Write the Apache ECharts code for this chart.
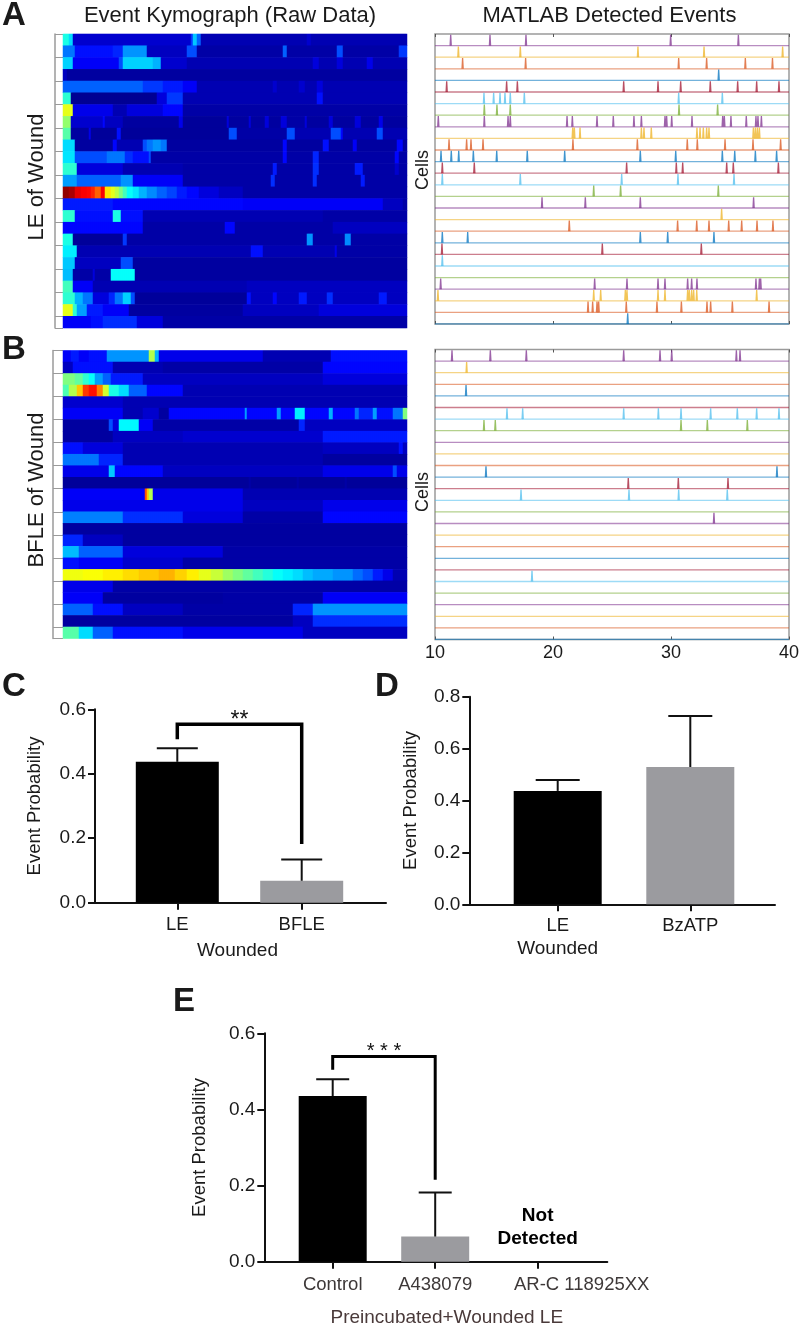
<!DOCTYPE html>
<html>
<head>
<meta charset="utf-8">
<style>html,body{margin:0;padding:0;background:#fff}#c{width:800px;height:1325px}</style>
<script src="https://cdn.jsdelivr.net/npm/echarts@6/dist/echarts.min.js"></script>
</head>
<body>
<div id="c"></div>
<script>
// Kymograph rows: runs of [start column, level 0-100] over 172 time columns
const kymoColumns = 172;
const kymoA = [
 [[0,40],[3,34],[5,9],[64,18],[65,32],[67,22],[69,7],[122,9],[124,7]],
 [[0,24],[6,14],[25,16],[30,27],[42,8],[62,20],[67,6],[110,22],[112,6],[137,20],[140,6],[168,18]],
 [[0,33],[5,12],[28,20],[30,33],[45,30],[49,9],[62,7],[125,10],[128,7],[137,10],[140,7],[152,11],[155,7]],
 [[0,8],[2,5]],
 [[0,22],[40,18],[50,15],[60,12],[67,7],[105,9],[107,7],[118,9],[121,7],[127,10],[130,7]],
 [[0,42],[4,3],[47,10],[52,18],[60,7],[127,14],[130,7]],
 [[0,60],[5,11],[25,7],[32,10],[50,13],[60,6]],
 [[0,52],[4,9],[20,13],[21,8],[30,5],[58,11],[60,4],[82,10],[83,5],[93,10],[94,5],[101,10],[103,5],[109,10],[112,6],[121,10],[122,5],[133,10],[135,5],[146,10],[149,5],[158,11],[160,5]],
 [[0,46],[4,5],[13,11],[14,4],[27,14],[29,4],[83,20],[87,6],[112,20],[116,7],[134,20],[139,13],[140,7],[157,20],[160,7]],
 [[0,34],[6,5],[25,13],[27,7],[40,20],[42,24],[45,27],[49,24],[52,5],[110,13],[112,5],[130,14],[133,5],[145,12],[147,5],[167,13],[170,5]],
 [[0,35],[6,20],[22,24],[31,17],[35,14],[43,20],[44,6],[110,13],[112,6],[125,16],[128,6],[166,13],[168,6]],
 [[0,42],[7,10],[30,7],[60,6],[105,15],[107,6],[125,17],[128,6],[146,15],[150,6],[166,9],[168,6]],
 [[0,28],[7,22],[29,27],[35,12],[60,6],[104,17],[106,6],[125,17],[127,6],[149,15],[151,6]],
 [[0,98],[3,96],[6,90],[9,88],[12,87],[14,84],[16,78],[19,88],[21,65],[24,60],[26,56],[28,50],[30,44],[32,38],[35,35],[38,30],[42,26],[47,22],[52,19],[57,15],[62,13],[68,10],[78,8],[90,6]],
 [[0,15],[25,13],[90,12],[160,8],[170,6]],
 [[0,42],[6,14],[25,40],[29,14],[40,7],[130,6]],
 [[0,13],[40,6],[81,13],[86,6],[135,8]],
 [[0,40],[5,4],[30,18],[32,6],[122,27],[125,6],[141,26],[144,6]],
 [[0,36],[7,7],[94,14],[100,7],[136,11],[137,6]],
 [[0,32],[6,8],[29,20],[35,5]],
 [[0,31],[5,6],[15,10],[16,6],[24,38],[36,5]],
 [[0,44],[5,12],[15,7],[92,8]],
 [[0,42],[6,30],[10,24],[15,10],[23,16],[26,24],[30,33],[34,20],[36,4],[92,14],[94,8],[105,13],[107,8],[118,15],[122,8],[132,17],[135,8],[158,15],[162,8]],
 [[0,60],[5,42],[7,28],[12,15],[20,12],[33,5],[90,8],[128,10]],
 [[0,12],[14,14],[20,17],[37,10],[50,6]]
];
const kymoB = [
 [[0,12],[4,15],[8,12],[13,14],[22,27],[43,55],[46,30],[48,11],[100,7],[134,14]],
 [[0,8],[5,14],[25,7],[50,6],[130,13]],
 [[0,50],[6,47],[10,42],[13,38],[16,28],[20,22],[24,15],[40,8],[130,10]],
 [[0,45],[3,55],[7,68],[10,82],[13,86],[17,75],[20,58],[23,40],[28,34],[33,22],[42,13],[60,7]],
 [[0,9],[30,7]],
 [[0,12],[30,7],[40,9],[48,5],[53,13],[91,28],[92,13],[107,28],[109,13],[116,36],[121,13],[133,30],[135,13],[146,24],[148,16],[155,28],[157,14],[165,24],[170,50]],
 [[0,5],[23,20],[25,10],[28,37],[38,12],[45,6],[118,16],[121,8]],
 [[0,5],[25,8],[60,9],[130,15]],
 [[0,14],[10,10],[30,7],[130,8],[168,14],[170,8]],
 [[0,24],[18,16],[30,7],[130,5]],
 [[0,11],[23,32],[26,13],[50,8],[130,11],[165,20],[167,11]],
 [[0,4],[93,6],[94,4],[117,6],[118,4],[141,6],[142,4]],
 [[0,12],[41,80],[42,68],[43,55],[45,11],[90,7]],
 [[0,11],[90,8],[130,11]],
 [[0,25],[30,17],[60,10],[90,6],[130,13]],
 [[0,5]],
 [[0,16],[10,8],[30,5]],
 [[0,31],[8,22],[30,10],[80,6]],
 [[0,14],[8,12],[30,9],[60,6]],
 [[0,61],[10,62],[20,64],[30,66],[38,68],[48,70],[56,67],[62,64],[68,60],[74,57],[80,53],[85,50],[90,47],[95,44],[100,41],[105,38],[110,36],[115,34],[120,31],[125,29],[135,27],[145,23],[150,20],[155,15],[160,11],[165,7]],
 [[0,11],[25,6]],
 [[0,12],[20,5],[80,6],[130,12]],
 [[0,22],[15,14],[30,8],[60,6],[115,16],[125,27]],
 [[0,5],[115,8],[125,17]],
 [[0,46],[8,34],[15,22],[25,14],[60,11],[120,8]]
];
// Detected events: time of each spike, by cell
const eventsA = [
 [11.33,14.66,17.71,29.97,35.71],
 [11.98,17.23,27.2,32.8,39.46],
 [12.34,17.68,30.65,33.02,36.3,38.6],
 [34.04],
 [10.99,16.07,16.98,25.99,28.9,30.82,33.33,35.65,37.26,39.15],
 [14.15,14.97,15.51,15.93,16.38,17.57,30.65,34.35],
 [14.18,15.25,16.38,30.68,33.95],
 [10.28,14.18,16.19,16.38,21.19,21.64,23.73,25.11,26.86,27.49,29.49,29.63,30.06,31.78,34.38,34.52,35.08,36.38,37.2,37.37,37.66],
 [21.67,21.81,22.29,27.49,27.71,28.33,32.2,32.46,32.74,33.02,33.22,36.98,37.15,37.32,37.49],
 [11.19,12.68,13.05,14.07,21.69,27.15,31.38,32.23,34.58,36.95,39.29],
 [10.51,11.38,12.01,13.25,15.23,17.82,20.99,27.4,30.4,34.35,35.4,37.15,38.95],
 [10.62,13.33,26.24,30.45,30.99,34.72,35.28,39.1],
 [10.62,17.23,25.82,30.59,35.34],
 [23.45,25.73,34.01],
 [19.07,22.74,27.4,37.0],
 [34.29],
 [21.38,30.56,32.18,33.22,34.89,35.99,37.29,38.64],
 [10.62,12.77,27.4,29.72,33.64],
 [10.59,24.18,32.57],
 [10.62],
 [],
 [10.48,23.53,26.27,28.9,29.49,31.41,31.75,32.2,37.2,37.49,37.6],
 [10.25,23.45,24.04,26.13,26.27,28.9,29.49,31.41,31.55,31.75,31.92,32.18,37.26],
 [22.97,23.36,23.73,23.87,26.21,28.81,30.88,33.05,33.36,35.2,38.31],
 [26.33]
];
const eventsB = [
 [11.44,14.69,17.74,25.99,29.07,30.06,35.54,35.85],
 [12.68],
 [],
 [12.63],
 [],
 [16.1,17.43,25.99,28.93,30.85,33.36,35.62,37.26,39.15],
 [14.15,15.11,30.85,33.08,36.47],
 [],[],[],
 [14.32,38.98],
 [26.38,30.62,34.83],
 [17.29,26.44,30.65,34.77],
 [],
 [33.64],
 [],[],[],[],
 [18.22],
 [],[],[],[],[]
];
const traceColors = ['#7E2F8E','#EDB120','#D95319','#0072BD','#A2142F','#4DBEEE','#77AC30'];

// Bar panels
const catsC = ['LE','BFLE'];
const meansC = [0.437,0.068];
const upperC = [0.479,0.134];
const catsD = ['LE','BzATP'];
const meansD = [0.437,0.529];
const upperD = [0.479,0.726];
const catsE = ['Control','A438079','AR-C 118925XX'];
const meansE = [0.435,0.066,0];
const upperE = [0.479,0.182,null];
const barColors = ['#000000','#9b9b9f','#9b9b9f'];

const FONT = '"Liberation Sans", Arial, sans-serif';
const INK = '#1a1a1a';
const grids=[], xAxes=[], yAxes=[], series=[], graphic=[];

function addGrid(l,t,r,b){ grids.push({left:l,top:t,width:r-l,height:b-t,containLabel:false,outerBoundsMode:'none'}); return grids.length-1; }

const columnIdx = Array.from({length:kymoColumns},(_,i)=>i);
function kymoPanel(rows,l,t,r,b,stripW){
  const g = addGrid(l,t,r,b);
  const xi = xAxes.length, yi = yAxes.length;
  xAxes.push({gridIndex:g,type:'category',data:columnIdx,show:false});
  yAxes.push({gridIndex:g,type:'category',inverse:true,data:rows.map((_,i)=>i+1),offset:stripW,
    axisLine:{show:true,lineStyle:{color:'#9a9a9a',width:1.5}},
    axisTick:{show:true,inside:true,length:stripW,lineStyle:{color:'#9a9a9a',width:1}},
    axisLabel:{show:false},splitLine:{show:false}});
  const data=[];
  rows.forEach((runs,ri)=>{
    runs.forEach((run,k)=>{
      const end = k+1<runs.length ? runs[k+1][0] : kymoColumns;
      for(let c=run[0];c<end;c++) data.push([c,ri,run[1]]);
    });
  });
  series.push({type:'heatmap',xAxisIndex:xi,yAxisIndex:yi,data,progressive:0,animation:false,
    itemStyle:{borderWidth:0},emphasis:{disabled:true}});
}

function eventPanel(events,l,t,r,b,labels){
  const g = addGrid(l,t,r,b);
  grids[g].show=true; grids[g].borderColor='#9a9a9a'; grids[g].borderWidth=1.5; grids[g].backgroundColor='#fff';
  const xi = xAxes.length, yi = yAxes.length;
  const axisBase = {gridIndex:g,type:'value',min:10,max:40,interval:10,splitLine:{show:false},
    axisLine:{show:false},axisTick:{show:true,inside:true,length:3,lineStyle:{color:'#555',width:1}}};
  xAxes.push(Object.assign({},axisBase,{position:'bottom',
    axisLabel:{show:labels,fontFamily:FONT,fontSize:18,color:INK,margin:5,showMinLabel:true,showMaxLabel:true,hideOverlap:false}}));
  xAxes.push(Object.assign({},axisBase,{position:'top',axisLabel:{show:false}}));
  yAxes.push({gridIndex:g,type:'value',min:0,max:events.length,show:false});
  const n = events.length;
  events.forEach((times,i)=>{
    const base = n-1-i;
    series.push({type:'line',xAxisIndex:xi,yAxisIndex:yi,data:[[10,base],[40,base]],symbol:'none',silent:true,animation:false,
      lineStyle:{color:traceColors[i%7],width:1.3,opacity:0.55}});
    if(times.length){
      const pts=[];
      times.forEach(tv=>{ pts.push([tv-0.05,base],[tv,base+0.93],[tv+0.05,base],['-','-']); });
      series.push({type:'line',xAxisIndex:xi,yAxisIndex:yi,data:pts,symbol:'none',silent:true,animation:false,
        connectNulls:false,lineStyle:{color:traceColors[i%7],width:1.3,opacity:0.75}});
    }
  });
}

function barPanel(o){
  const g = addGrid(o.l,o.t,o.r,o.b);
  const xi = xAxes.length, yi = yAxes.length;
  const off = (o.tick0-o.l)/o.step;
  const span = (o.r-o.l)/o.step;
  const pos = o.cats.map((_,i)=>off+i);
  const line = {color:'#111',width:2};
  const shift = o.xShift||0;
  xAxes.push({gridIndex:g,type:'value',min:0,max:span,splitLine:{show:false},
    axisLine:{show:true,onZero:false,lineStyle:line},
    axisTick:{show:true,customValues:pos,length:7,lineStyle:line},
    axisLabel:{show:true,customValues:pos,fontFamily:FONT,fontSize:18.5,color:o.labelColor||INK,margin:o.labelMargin||12,hideOverlap:false,
      showMinLabel:true,showMaxLabel:true,
      formatter:v=>{const i=Math.round(v-off); return (o.labelRich&&o.labelRich[i])?('{'+o.labelRich[i]+'|'+o.cats[i]+'}'):o.cats[i];},
      rich:o.rich||{}},
    name:o.xName,nameLocation:'middle',nameGap:o.xGap,
    nameTextStyle:{fontFamily:FONT,fontSize:19,color:o.nameColor||INK,padding:[0,shift<0?-2*shift:0,0,shift>0?2*shift:0]}});
  yAxes.push({gridIndex:g,type:'value',min:0,max:o.ymax,interval:0.2,splitLine:{show:false},
    axisLine:{show:true,lineStyle:line},axisTick:{show:true,length:7,lineStyle:line},
    axisLabel:{fontFamily:FONT,fontSize:19,color:INK,margin:9,formatter:v=>v.toFixed(1)},
    name:'Event Probability',nameLocation:'middle',nameGap:o.yGap,nameRotate:90,
    nameTextStyle:{fontFamily:FONT,fontSize:18.5,color:INK}});
  series.push({type:'bar',xAxisIndex:xi,yAxisIndex:yi,barWidth:o.barW,silent:true,animation:false,
    data:o.means.map((v,i)=>({value:[pos[i],v],itemStyle:{color:barColors[i]}})),z:2});
  series.push({type:'custom',xAxisIndex:xi,yAxisIndex:yi,silent:true,animation:false,z:3,clip:false,
    data:o.means.map((v,i)=>[pos[i],v,o.upper[i]]).filter(d=>d[2]!=null),
    encode:{x:0,y:[1,2]},
    renderItem:(p,api)=>{
      const a=api.coord([api.value(0),api.value(1)]), c=api.coord([api.value(0),api.value(2)]);
      const s={stroke:'#111',lineWidth:2,fill:null};
      return {type:'group',children:[
        {type:'line',shape:{x1:a[0],y1:a[1],x2:c[0],y2:c[1]},style:s},
        {type:'line',shape:{x1:c[0]-o.capW/2,y1:c[1],x2:c[0]+o.capW/2,y2:c[1]},style:s}
      ]};
    }});
  if(o.bracket){
    const br=o.bracket;
    series.push({type:'line',xAxisIndex:xi,yAxisIndex:yi,symbol:'none',silent:true,animation:false,z:4,
      lineStyle:{color:'#000',width:br.w,join:'miter',cap:'butt'},
      data:[[pos[0],br.left],[pos[0],br.top],[pos[1],br.top],[pos[1],br.right]]});
    series.push({type:'scatter',xAxisIndex:xi,yAxisIndex:yi,symbolSize:0,silent:true,animation:false,z:5,
      itemStyle:{opacity:1},
      data:[[(pos[0]+pos[1])/2,br.starY]],
      label:{show:true,position:'inside',formatter:br.stars,fontFamily:FONT,fontSize:br.starSize,color:'#111',opacity:1}});
  }
  if(o.note){
    series.push({type:'scatter',xAxisIndex:xi,yAxisIndex:yi,symbolSize:0,silent:true,animation:false,z:5,
      itemStyle:{opacity:1},
      data:[[pos[o.note.idx],o.note.y]],
      label:{show:true,position:'inside',formatter:o.note.text,fontFamily:FONT,fontSize:19,fontWeight:'bold',color:'#000',opacity:1,lineHeight:23,align:'center'}});
  }
}

kymoPanel(kymoA,63,34,407,328,8);
kymoPanel(kymoB,63,350.5,407,638.5,10);
eventPanel(eventsA,435,34,789,324,false);
eventPanel(eventsB,435,349.5,789,639.5,true);

barPanel({cats:catsC,means:meansC,upper:upperC,l:95,r:386,t:709.3,b:902.7,ymax:0.6,tick0:177.3,step:124.4,barW:83,capW:41,
  xName:'Wounded',xGap:39,yGap:51,xShift:-3,labelMargin:13,
  bracket:{left:0.507,top:0.554,right:0.182,w:3.5,stars:'**',starY:0.566,starSize:23}});
barPanel({cats:catsD,means:meansD,upper:upperD,l:469.3,r:775,t:696.7,b:904.3,ymax:0.8,tick0:557.7,step:132.6,barW:88,capW:44,
  xName:'Wounded',xGap:35,yGap:48.6,xShift:-64.5});
barPanel({cats:catsE,means:meansE,upper:upperE,l:264.3,r:607.3,t:1033.3,b:1261.7,ymax:0.6,tick0:332.7,step:102.5,barW:68,capW:33,
  xName:'Preincubated+Wounded LE',xGap:47,yGap:54.6,xShift:11,labelColor:'#3d3838',nameColor:'#4a3a3a',labelMargin:14,
  labelRich:{2:'far'},rich:{far:{padding:[0,0,0,88],fontFamily:FONT,fontSize:18.5,color:'#3d3838'}},
  bracket:{left:0.504,top:0.539,right:0.215,w:3,stars:'* * *',starY:0.552,starSize:20},
  note:{idx:2,y:0.091,text:'Not\nDetected'}});

function freeText(text,x,y,size,weight,rot,color){
  graphic.push({type:'text',x,y,rotation:rot?Math.PI/2:0,silent:true,
    style:{text,fontFamily:FONT,fontSize:size,fontWeight:weight||'normal',fill:color||INK,textAlign:'center',textVerticalAlign:'middle'}});
}
freeText('Event Kymograph (Raw Data)',230,16,22);
freeText('MATLAB Detected Events',609.5,16,22);
freeText('LE of Wound',37,177,22,'normal',true);
freeText('BFLE of Wound',37,490,22,'normal',true);
freeText('Cells',423,170,18,'normal',true);
freeText('Cells',423,492,18,'normal',true);
freeText('A',14,16,33,'bold');
freeText('B',14,350,33,'bold');
freeText('C',14,687,33,'bold');
freeText('D',387,687,33,'bold');
freeText('E',184,1002,33,'bold');

const chart = echarts.init(document.getElementById('c'),null,{renderer:'canvas',width:800,height:1325});
chart.setOption({
  animation:false,backgroundColor:'#ffffff',tooltip:{show:false},
  visualMap:[{show:false,type:'continuous',seriesIndex:[0,1],dimension:2,min:0,max:100,
    inRange:{color:['#000080','#0000a8','#0000ff','#0040ff','#0080ff','#00c0ff','#00ffff','#40ffc0','#80ff80','#c0ff40','#ffff00','#ffc000','#ff8000','#ff4000','#ff0000','#c00000','#800000']}}],
  grid:grids,xAxis:xAxes,yAxis:yAxes,series,graphic
});
</script>
</body>
</html>
